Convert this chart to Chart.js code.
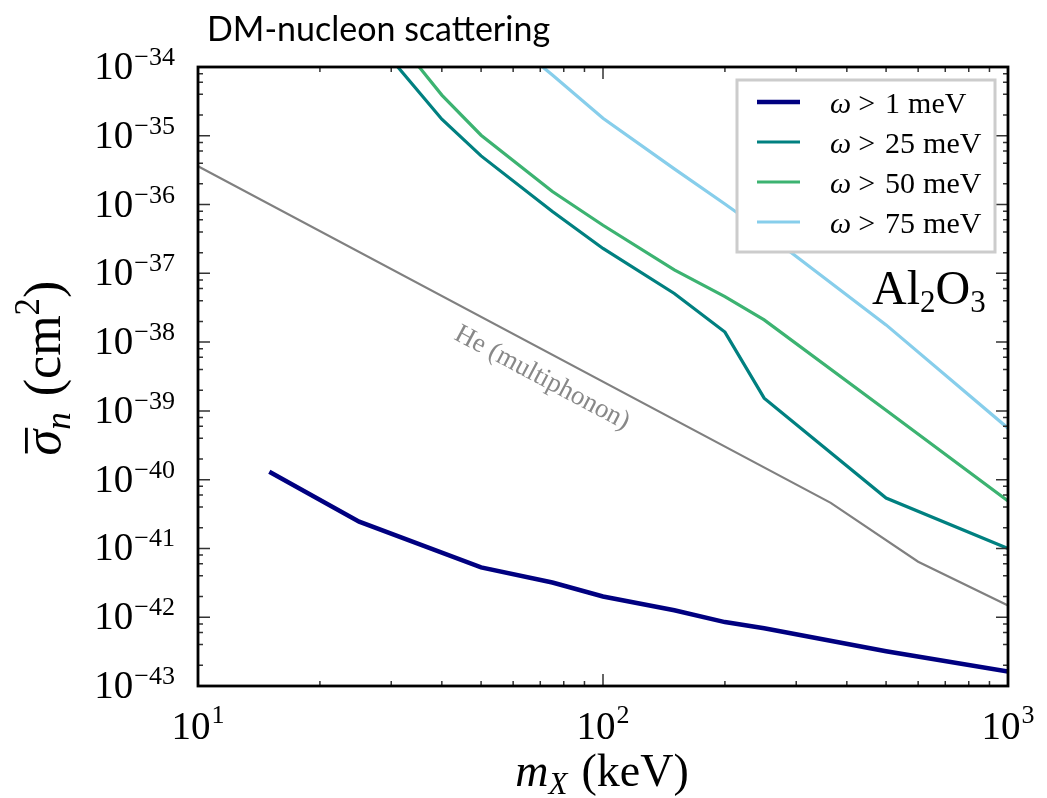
<!DOCTYPE html>
<html>
<head>
<meta charset="utf-8">
<script src="https://cdn.jsdelivr.net/npm/chart.js@4.4.0/dist/chart.umd.min.js"></script>
<style>
  html, body { margin: 0; padding: 0; background: #fff; }
  #wrap { width: 1047px; height: 798px; }
</style>
</head>
<body>
<div id="wrap"><canvas id="chart" width="1047" height="798"></canvas></div>
<script>
// DM mass (keV) and reach curves
const mass1 = [15, 25, 50, 75, 100, 150, 200, 250, 500, 1000];
const sigma1 = [1.3e-40, 2.45e-41, 5.3e-42, 3.2e-42, 2.0e-42, 1.26e-42, 8.5e-43, 6.9e-43, 3.2e-43, 1.62e-43];

const mass25 = [30, 40, 50, 75, 100, 150, 200, 250, 500, 1000];
const sigma25 = [1.3e-34, 1.74e-35, 5.1e-36, 7.9e-37, 2.3e-37, 5.1e-38, 1.4e-38, 1.53e-39, 5.4e-41, 1.0e-41];

const mass50 = [30, 40, 50, 75, 100, 150, 200, 250, 500, 1000];
const sigma50 = [3.2e-34, 3.9e-35, 1.02e-35, 1.55e-36, 5.0e-37, 1.12e-37, 4.6e-38, 2.1e-38, 1.02e-39, 4.9e-41];

const mass75 = [50, 75, 100, 150, 200, 250, 500, 1000];
const sigma75 = [5.5e-34, 7.65e-35, 1.8e-35, 3.3e-36, 1.02e-36, 4.0e-37, 1.78e-38, 5.6e-40];

const massHe = [10, 365, 600, 1000];
const sigmaHe = [3.6e-36, 4.6e-41, 6.4e-42, 1.48e-42];

const seriesLabels = ['1', '25', '50', '75'];
const xDecades = [1, 2, 3];
const yDecades = [-43, -42, -41, -40, -39, -38, -37, -36, -35, -34];

const SERIF = '"Liberation Serif", "DejaVu Serif", serif';

function pts(xs, ys) {
    return xs.map((x, i) => ({ x: x, y: ys[i] }));
}

function drawRich(ctx, parts, x, y) {
    let cx = x;
    parts.forEach(p => {
        ctx.font = p.font;
        ctx.fillText(p.text, cx, y + (p.dy || 0));
        cx += ctx.measureText(p.text).width + (p.gap || 0);
    });
    return cx;
}

function richWidth(ctx, parts) {
    let w = 0;
    parts.forEach(p => {
        ctx.font = p.font;
        w += ctx.measureText(p.text).width + (p.gap || 0);
    });
    return w;
}

const decorations = {
    id: 'decorations',
    afterDatasetsDraw(chart) {
        const ctx = chart.ctx;
        const area = chart.chartArea;
        const xs = chart.scales.x;
        const ys = chart.scales.y;

        ctx.save();
        ctx.textBaseline = 'alphabetic';
        ctx.textAlign = 'left';
        ctx.fillStyle = '#000';

        // He label along the gray curve
        const heA = { x: xs.getPixelForValue(massHe[0]), y: ys.getPixelForValue(sigmaHe[0]) };
        const heB = { x: xs.getPixelForValue(massHe[1]), y: ys.getPixelForValue(sigmaHe[1]) };
        const ang = Math.atan2(heB.y - heA.y, heB.x - heA.x);
        ctx.save();
        ctx.translate(542, 378);
        ctx.rotate(ang);
        ctx.font = '27px ' + SERIF;
        ctx.fillStyle = '#888';
        ctx.textAlign = 'center';
        ctx.textBaseline = 'middle';
        ctx.fillText('He (multiphonon)', 0, 0);
        ctx.restore();

        // tick marks, inward on all sides
        ctx.strokeStyle = '#333';
        ctx.lineWidth = 1.5;
        ctx.beginPath();
        yDecades.forEach(e => {
            const py = ys.getPixelForValue(Math.pow(10, e));
            ctx.moveTo(area.left, py); ctx.lineTo(area.left + 12, py);
            ctx.moveTo(area.right, py); ctx.lineTo(area.right - 12, py);
            if (e < -34) {
                [2, 4, 6, 8].forEach(m => {
                    const pm = ys.getPixelForValue(m * Math.pow(10, e));
                    ctx.moveTo(area.left, pm); ctx.lineTo(area.left + 5, pm);
                    ctx.moveTo(area.right, pm); ctx.lineTo(area.right - 5, pm);
                });
            }
        });
        xDecades.forEach(e => {
            const px = xs.getPixelForValue(Math.pow(10, e));
            ctx.moveTo(px, area.bottom); ctx.lineTo(px, area.bottom - 12);
            ctx.moveTo(px, area.top); ctx.lineTo(px, area.top + 12);
            if (e < 3) {
                for (let m = 2; m <= 9; m++) {
                    const pm = xs.getPixelForValue(m * Math.pow(10, e));
                    ctx.moveTo(pm, area.bottom); ctx.lineTo(pm, area.bottom - 5);
                    ctx.moveTo(pm, area.top); ctx.lineTo(pm, area.top + 5);
                }
            }
        });
        ctx.stroke();

        // frame
        ctx.strokeStyle = '#000';
        ctx.lineWidth = 2.8;
        ctx.strokeRect(area.left, area.top, area.right - area.left, area.bottom - area.top);

        // y tick labels
        yDecades.forEach(e => {
            const py = ys.getPixelForValue(Math.pow(10, e));
            const parts = [
                { text: '10', font: '39px ' + SERIF, gap: 1 },
                { text: '\u2212' + Math.abs(e), font: '26px ' + SERIF, dy: -14 }
            ];
            const w = richWidth(ctx, parts);
            drawRich(ctx, parts, 175 - w, py + 12);
        });

        // x tick labels
        xDecades.forEach(e => {
            const px = xs.getPixelForValue(Math.pow(10, e));
            const parts = [
                { text: '10', font: '39px ' + SERIF, gap: 1 },
                { text: String(e), font: '26px ' + SERIF, dy: -16 }
            ];
            const w = richWidth(ctx, parts);
            drawRich(ctx, parts, px - w / 2, 739);
        });

        // x axis title
        const xt = [
            { text: 'm', font: 'italic 46px ' + SERIF },
            { text: 'X', font: 'italic 31px ' + SERIF, dy: 8, gap: 14 },
            { text: '(keV)', font: '46px ' + SERIF }
        ];
        drawRich(ctx, xt, 602 - richWidth(ctx, xt) / 2, 786);

        // y axis title
        const yt = [
            { text: '\u03c3', font: 'italic 52px ' + SERIF },
            { text: 'n', font: 'italic 35px ' + SERIF, dy: 10, gap: 16 },
            { text: '(cm', font: '52px ' + SERIF },
            { text: '2', font: '35px ' + SERIF, dy: -21 },
            { text: ')', font: '52px ' + SERIF }
        ];
        ctx.save();
        ctx.translate(60, 368);
        ctx.rotate(-Math.PI / 2);
        const yw = richWidth(ctx, yt);
        drawRich(ctx, yt, -yw / 2, 0);
        ctx.font = 'italic 52px ' + SERIF;
        const sw = ctx.measureText('\u03c3').width;
        ctx.fillRect(-yw / 2 + 2, -35, sw, 2.8);
        ctx.restore();

        // legend
        ctx.fillStyle = '#fff';
        ctx.fillRect(737, 80, 258, 172);
        ctx.strokeStyle = '#ccc';
        ctx.lineWidth = 3;
        ctx.strokeRect(737, 80, 258, 172);
        chart.data.datasets.slice(0, 4).forEach((ds, i) => {
            const ly = 102 + 40 * i;
            ctx.strokeStyle = ds.borderColor;
            ctx.lineWidth = ds.borderWidth;
            ctx.beginPath();
            ctx.moveTo(757, ly);
            ctx.lineTo(800, ly);
            ctx.stroke();
            ctx.fillStyle = '#000';
            drawRich(ctx, [
                { text: '\u03c9', font: 'italic 30px ' + SERIF, gap: 7 },
                { text: '>', font: '30px ' + SERIF, gap: 10 },
                { text: seriesLabels[i], font: '30px ' + SERIF, gap: 8 },
                { text: 'meV', font: '30px ' + SERIF }
            ], 830, ly + 11);
        });

        // material label
        ctx.fillStyle = '#000';
        drawRich(ctx, [
            { text: 'Al', font: '48px ' + SERIF },
            { text: '2', font: '31px ' + SERIF, dy: 8 },
            { text: 'O', font: '48px ' + SERIF },
            { text: '3', font: '31px ' + SERIF, dy: 8 }
        ], 872, 304);

        // title
        ctx.font = '34px Lato, "Open Sans", sans-serif';
        ctx.fillText('DM-nucleon scattering', 207, 41);

        ctx.restore();
    }
};

new Chart(document.getElementById('chart'), {
    type: 'scatter',
    data: {
        datasets: [
            { data: pts(mass1, sigma1), borderColor: '#000080', borderWidth: 4.5 },
            { data: pts(mass25, sigma25), borderColor: '#008080', borderWidth: 3.2 },
            { data: pts(mass50, sigma50), borderColor: '#3cb371', borderWidth: 3.2 },
            { data: pts(mass75, sigma75), borderColor: '#87ceeb', borderWidth: 3.2 },
            { data: pts(massHe, sigmaHe), borderColor: '#808080', borderWidth: 2.2 }
        ].map(ds => Object.assign(ds, { showLine: true, pointRadius: 0, fill: false, tension: 0 }))
    },
    options: {
        responsive: false,
        devicePixelRatio: 1,
        animation: false,
        layout: { padding: { left: 198, right: 39, top: 67, bottom: 112 } },
        scales: {
            x: { type: 'logarithmic', min: 10, max: 1000, display: false },
            y: { type: 'logarithmic', min: 1e-43, max: 1e-34, display: false }
        },
        plugins: {
            legend: { display: false },
            tooltip: { enabled: false }
        }
    },
    plugins: [decorations]
});
</script>
</body>
</html>
